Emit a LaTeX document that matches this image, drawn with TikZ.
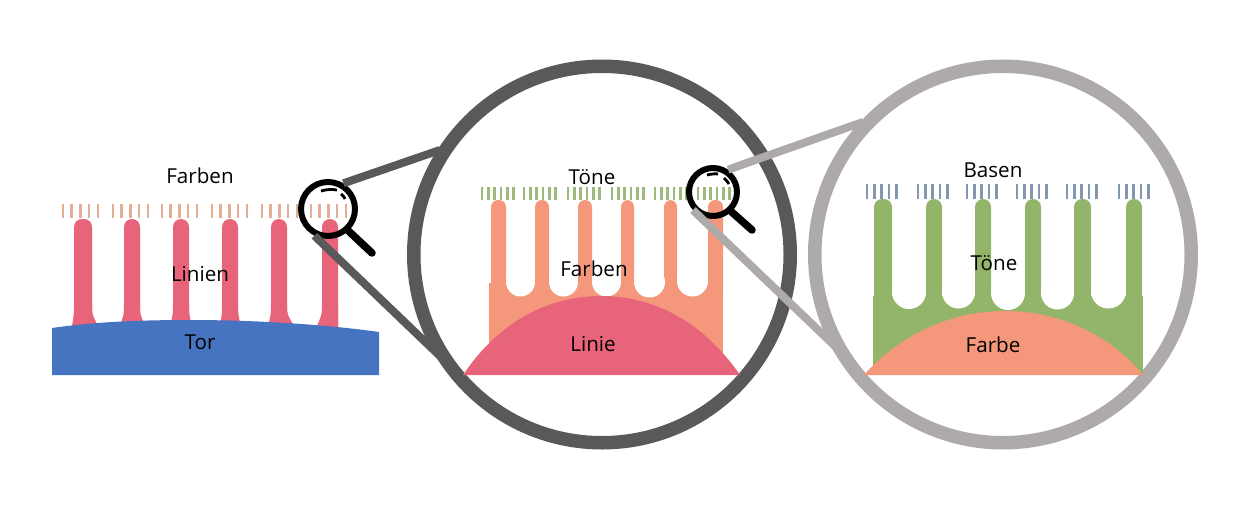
\documentclass[tikz,border=0pt]{standalone}
\usepackage{fontspec}
\setmainfont{Open Sans}
\definecolor{ringdark}{HTML}{595959}
\definecolor{ringlight}{HTML}{AEAAAA}
\definecolor{linepink}{HTML}{E8647A}
\definecolor{colorsalmon}{HTML}{F4977A}
\definecolor{tonegreen}{HTML}{93B569}
\definecolor{torblue}{HTML}{4674C0}
\definecolor{tickpeach}{HTML}{E2AE94}
\definecolor{tickgreen}{HTML}{9DB97C}
\definecolor{tickblue}{HTML}{8497B0}
\tikzset{
	label text/.style={font=\fontsize{20.6}{23}\selectfont, inner sep=0pt, text=black},
	big ring/.style={circle, draw, line width=13.5pt, minimum size=376.5pt, inner sep=0pt},
	lens ring/.style={circle, draw=black, line width=6pt, inner sep=0pt},
	lens handle/.style={black, line width=7.5pt, line cap=round},
	lens glare/.style={black, line width=2.8pt},
	lens link/.style={line width=8pt},
	tick/.style={line width=2.6pt}
}
\begin{document}
\begin{tikzpicture}[x=1pt, y=-1pt]
	\useasboundingbox (0,0) rectangle (1248,507);
	% rings
	\node[big ring, draw=ringdark] (ringB) at (602,254.5) {};
	\node[big ring, draw=ringlight] (ringC) at (1003,254.5) {};
	% left picture
	\foreach \x in {63,113,162,212,262,311}
		\foreach \i in {0,...,4}
			\draw[tick, tickpeach] ({\x+\i*8.7},204) -- ({\x+\i*8.7},218);
	\foreach \xa/\xb/\xc/\xd in {74/92/72/98, 124/140/120/145, 173/189/170/192, 222/238/220/241, 271/287/268/294, 322/338/317/338}{
		\fill[linepink, rounded corners=8pt] (\xa,219) rectangle (\xb,335);
		\fill[linepink] (\xa,304) .. controls (\xa,314) .. (\xc,326) -- (\xd,326) .. controls (\xb,314) .. (\xb,304) -- cycle;
	}
	\fill[torblue] (52,328) .. controls (100,321) and (150,320) .. (190,320) .. controls (260,320) and (330,325) .. (379,332) -- (379,375) -- (52,375) -- cycle;
	% middle picture
	\foreach \x in {482,524,568,612,655,698}
		\foreach \i in {0,...,5}
			\draw[tick, tickgreen] ({\x+\i*6.3},187) -- ({\x+\i*6.3},200);
	\fill[colorsalmon] (489,283) rectangle (723,375);
	\foreach \xa/\xb in {491/506, 535/549, 578/592, 621/634, 664/677, 708/723}
		\fill[colorsalmon, rounded corners=7pt] (\xa,200) rectangle (\xb,300);
	\foreach \xc/\yc/\r in {520.5/282/14.5, 563.5/282/14.5, 606.5/282/14.5, 649.5/282/15.5, 692.5/281/15.5}
		\fill[white] (\xc,\yc) circle (\r);
	\fill[linepink] (463,375) .. controls (500,320) and (550,296) .. (601,296) .. controls (652,296) and (702,320) .. (740,375) -- cycle;
	% right picture
	\foreach \x in {867,918,967,1017,1067,1119}
		\foreach \i in {0,...,4}
			\draw[tick, tickblue] ({\x+\i*7.3},184) -- ({\x+\i*7.3},199);
	\fill[tonegreen] (873,296) rectangle (1143,374);
	\foreach \xa/\xb in {874/892, 926/942, 975/991, 1025/1041, 1074/1091, 1126/1142}
		\fill[tonegreen, rounded corners=8pt] (\xa,199) rectangle (\xb,310);
	\foreach \xc/\yc/\r in {909/292/17, 958.5/292/16.5, 1008/293/17, 1057.5/293/16.5, 1108.5/291/17.5}
		\fill[white] (\xc,\yc) circle (\r);
	\fill[colorsalmon] (864,375) .. controls (900,335) and (950,311) .. (1005,311) .. controls (1060,311) and (1110,335) .. (1143,375) -- cycle;
	% lenses
	\node[lens ring, minimum size=54pt] (lensA) at (328,209) {};
	\node[lens ring, minimum size=48pt] (lensB) at (713,192) {};
	\coordinate (ringBtop) at (440,150);
	\coordinate (ringBlow) at (441,357);
	\coordinate (ringCtop) at (863,122);
	\coordinate (ringClow) at (838,349);
	\draw[lens link, ringdark] (lensA.59) -- (ringBtop);
	\draw[lens link, ringdark] (lensA.243) -- (ringBlow);
	\draw[lens link, ringlight] (lensB.56) -- (ringCtop);
	\draw[lens link, ringlight] (lensB.222) -- (ringClow);
	\coordinate (handleA) at (372,253);
	\coordinate (handleB) at (752,230);
	\draw[lens handle] (lensA.-47) -- (handleA);
	\draw[lens handle] (lensB.-47) -- (handleB);
	\draw[lens glare] (321,191) .. controls (326,189.5) and (332,189) .. (337,190);
	\draw[lens glare] (341,194) .. controls (343,195.5) and (344.5,197) .. (345,199);
	\draw[lens glare] (707,175) .. controls (711,174) and (715,173.5) .. (718,174);
	\draw[lens glare] (724,178) .. controls (726,180) and (728,182) .. (729,184);
	% labels
	\node[label text] (colorsA) at (200,176) {Farben};
	\node[label text] (linesA) at (200,274) {Linien};
	\node[label text] (torA) at (200,342) {Tor};
	\node[label text] (tonesB) at (592,177) {Töne};
	\node[label text] (colorsB) at (594,269) {Farben};
	\node[label text] (lineB) at (593,344) {Linie};
	\node[label text] (basesC) at (993,170) {Basen};
	\node[label text] (tonesC) at (994,263) {Töne};
	\node[label text] (colorC) at (993,345) {Farbe};
\end{tikzpicture}
\end{document}
